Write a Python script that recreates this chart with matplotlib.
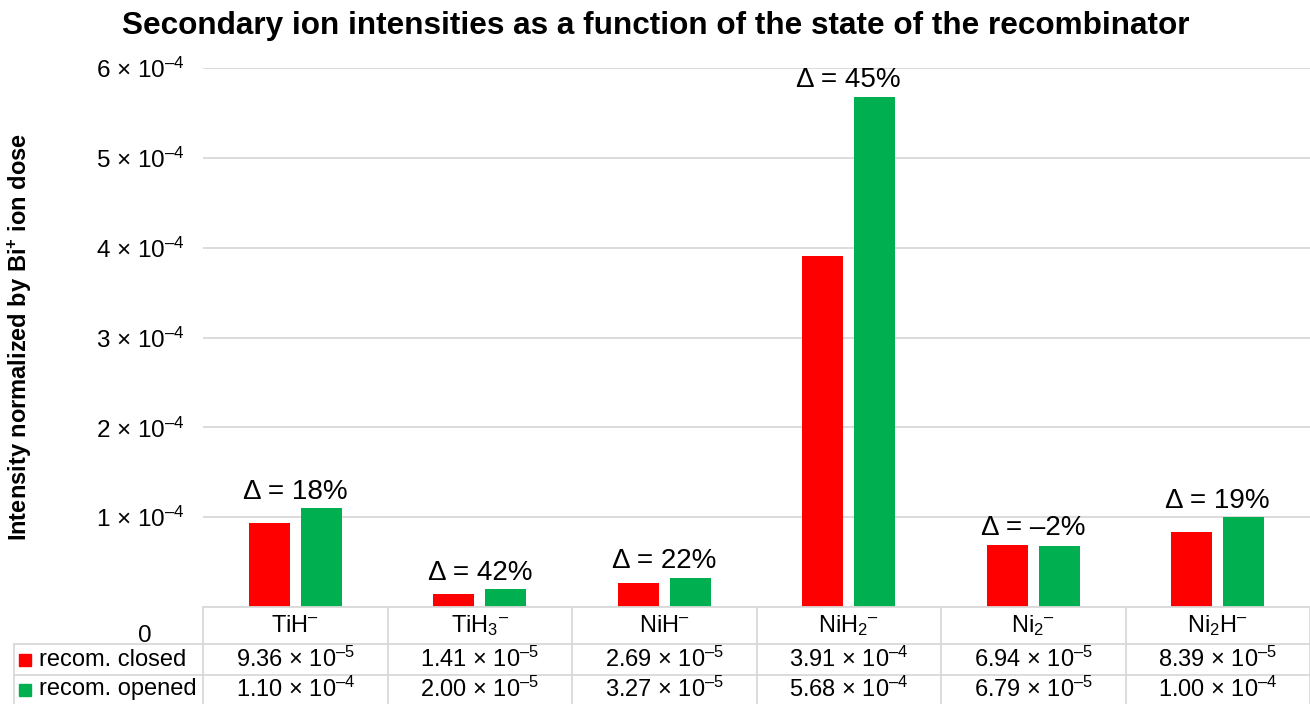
import matplotlib
matplotlib.use("Agg")
import matplotlib.pyplot as plt
import matplotlib.transforms as mtransforms
import numpy as np

plt.rcParams['font.family'] = ['Liberation Sans', 'DejaVu Sans']
plt.rcParams['mathtext.fontset'] = 'custom'
plt.rcParams['mathtext.rm'] = 'Liberation Sans'
plt.rcParams['mathtext.it'] = 'Liberation Sans'
plt.rcParams['mathtext.bf'] = 'Liberation Sans:bold'

EN = '\u2013'
# ---- data ----
categories = ['TiH$^{' + EN + '}$', 'TiH$_3$$^{' + EN + '}$', 'NiH$^{' + EN + '}$',
              'NiH$_2$$^{' + EN + '}$', 'Ni$_2$$^{' + EN + '}$', 'Ni$_2$H$^{' + EN + '}$']
closed = [9.36e-5, 1.41e-5, 2.69e-5, 3.91e-4, 6.94e-5, 8.39e-5]
opened = [1.10e-4, 2.00e-5, 3.27e-5, 5.68e-4, 6.79e-5, 1.00e-4]
deltas = ['18%', '42%', '22%', '45%', EN + '2%', '19%']
series_names = ['recom. closed', 'recom. opened']
series_colors = ['#FF0000', '#00B050']
yticks = [0, 1e-4, 2e-4, 3e-4, 4e-4, 5e-4, 6e-4]
ytick_labels = ['0'] + ['%d × 10$^{%s4}$' % (k, EN) for k in range(1, 7)]


def sci(v):
    e = int(np.floor(np.log10(v)))
    m = v / 10 ** e
    return '%.2f × 10$^{%s%d}$' % (m, EN, -e)


W, H = 1310, 704
fig = plt.figure(figsize=(W / 100, H / 100), dpi=100)
ax = fig.add_axes([203 / W, 97 / H, 1107 / W, 539 / H])

x = np.arange(len(categories))
bw = 0.222
off = 0.141
ax.bar(x - off, closed, bw, color=series_colors[0], zorder=3)
ax.bar(x + off, opened, bw, color=series_colors[1], zorder=3)

ax.set_xlim(-0.5, len(categories) - 0.5)
ax.set_ylim(0, 6e-4)
ax.set_yticks(yticks)
ax.set_yticklabels(ytick_labels, fontsize=17.5)
ax.set_xticks([])
ax.tick_params(axis='y', length=0, pad=13)
for s in ax.spines.values():
    s.set_visible(False)
ax.yaxis.grid(True, color='#D9D9D9', linewidth=1.3, zorder=0)

# shift '0' label like in reference
lab0 = ax.get_yticklabels()[0]
lab0.set_transform(lab0.get_transform() +
                   mtransforms.ScaledTranslation(-0.33, -0.26, fig.dpi_scale_trans))

# delta labels
for i in range(len(categories)):
    top = max(closed[i], opened[i])
    ax.annotate('Δ = ' + deltas[i], (x[i], top), xytext=(0, 2.5),
                textcoords='offset points', ha='center', va='bottom', fontsize=20)

# title and y label
fig.text(656 / W, 1 - 26 / H,
         'Secondary ion intensities as a function of the state of the recombinator',
         ha='center', va='center', fontsize=22.7, fontweight='bold')
fig.text(20 / W, 1 - 337 / H, r'Intensity normalized by Bi$^{\mathbf{+}}$ ion dose',
         rotation=90, ha='center', va='center', fontsize=17, fontweight='bold')

# ---- data table below axes ----
gc = '#D9D9D9'
bt = mtransforms.blended_transform_factory(ax.transData, fig.transFigure)
ff = fig.transFigure
y_hdr_top, y_r1, y_r2, y_bot = 607, 644, 675, 704
fy = lambda p: 1 - p / H
fig.add_artist(plt.Line2D([203 / W, 1], [fy(y_hdr_top)] * 2, color=gc, lw=1.3, transform=ff))
for yy in (y_r1, y_r2):
    fig.add_artist(plt.Line2D([14 / W, 1], [fy(yy)] * 2, color=gc, lw=1.3, transform=ff))
fig.add_artist(plt.Line2D([14 / W] * 2, [fy(y_r1), fy(y_bot)], color=gc, lw=1.3, transform=ff))
for b in np.arange(len(categories) + 1) - 0.5:
    fig.add_artist(plt.Line2D([b, b], [fy(y_hdr_top), fy(y_bot)], color=gc, lw=1.3,
                              transform=bt, clip_on=False))

for i, c in enumerate(categories):
    fig.text(x[i], fy((y_hdr_top + y_r1) / 2), c, ha='center', va='center',
             fontsize=17, transform=bt)
    fig.text(x[i], fy((y_r1 + y_r2) / 2), sci(closed[i]), ha='center', va='center',
             fontsize=17, transform=bt)
    fig.text(x[i], fy((y_r2 + y_bot) / 2), sci(opened[i]), ha='center', va='center',
             fontsize=17, transform=bt)

for k, (ya, yb) in enumerate([(y_r1, y_r2), (y_r2, y_bot)]):
    yc = (ya + yb) / 2
    fig.add_artist(plt.Rectangle((19 / W, fy(yc + 6)), 12 / W, 12 / H,
                                 color=series_colors[k], transform=ff))
    fig.text(39 / W, fy(yc), series_names[k], ha='left', va='center', fontsize=17)

fig.savefig('out.png', dpi=100)
